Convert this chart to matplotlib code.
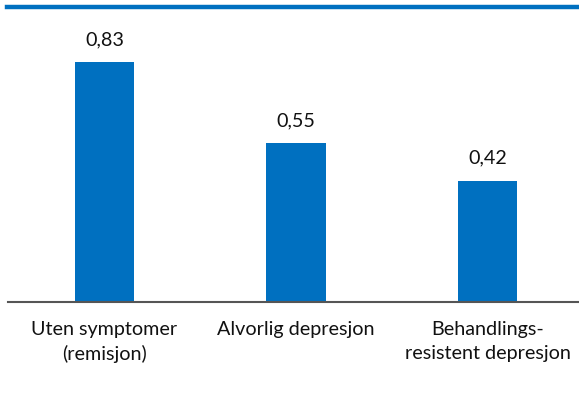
import matplotlib.pyplot as plt
from matplotlib.lines import Line2D

categories = ["Uten symptomer\n(remisjon)", "Alvorlig depresjon", "Behandlings-\nresistent depresjon"]
values = [0.83, 0.55, 0.42]
value_labels = ["0,83", "0,55", "0,42"]

blue = "#0070C0"
plt.rcParams["font.family"] = ["Lato", "DejaVu Sans"]

fig = plt.figure(figsize=(5.79, 3.96), dpi=100)
# axes spans from the grey baseline up to the blue rule at the top
ax = fig.add_axes([8 / 579, 94 / 396, 571 / 579, 296 / 396])

x = range(len(values))
ax.bar(x, values, width=0.313, color=blue, zorder=2)
for xi, v, lab in zip(x, values, value_labels):
    ax.annotate(lab, (xi, v), xytext=(0, 10), textcoords="offset points",
                ha="center", va="bottom", fontsize=14.2, color="#111111")

ax.set_xlim(-0.504, 2.478)
ax.set_ylim(0, 296 / 289.2)
ax.set_xticks(list(x))
ax.set_xticklabels(categories, fontsize=14.2, color="#111111", linespacing=1.45)
ax.tick_params(axis="x", length=0, pad=14)
ax.set_yticks([])
for side in ["top", "right", "left"]:
    ax.spines[side].set_visible(False)
ax.spines["bottom"].set_color("#555555")
ax.spines["bottom"].set_linewidth(1.5)

# blue rule along the top edge
fig.add_artist(Line2D([7 / 579, 1.0], [1 - 6.5 / 396, 1 - 6.5 / 396],
                      color=blue, linewidth=3.2, transform=fig.transFigure))

fig.savefig("out.png", dpi=100)
